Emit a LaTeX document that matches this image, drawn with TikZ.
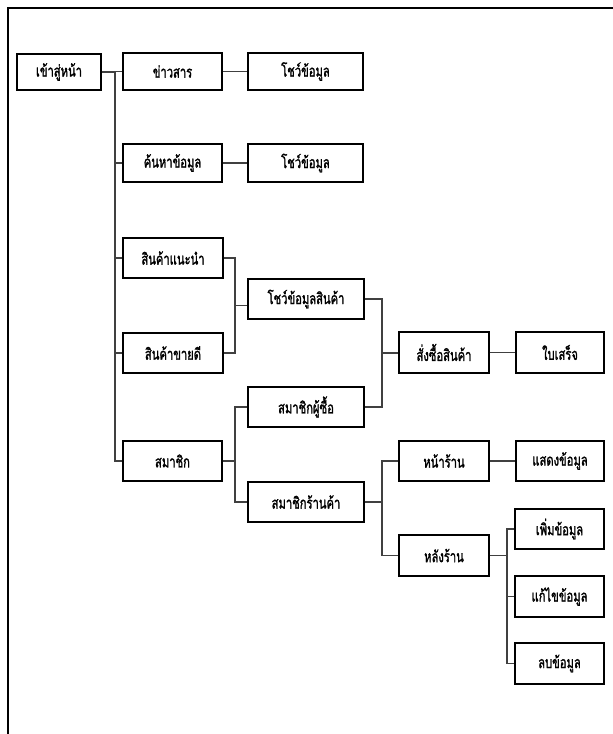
\documentclass[tikz,border=0pt]{standalone}
\usepackage{fontspec}
\newfontfamily\thaifont[Script=Thai,FakeStretch=0.7,FakeBold=1.5]{Loma}
\usetikzlibrary{calc}
\begin{document}
\begin{tikzpicture}[x=1pt,y=-1pt,
  box/.style={draw=black,line width=1.2pt,fill=white,minimum height=38pt,inner sep=0pt,font=\thaifont\fontsize{16pt}{18pt}\selectfont},
  bw/.style={box,minimum width=#1},
  link/.style={draw=black!75,line width=1.3pt}]
\useasboundingbox (0,0) rectangle (613,734);
\draw[line width=1.6pt] (8,734) -- (8,8) -- (613,8);
% x positions of bracket lines
\coordinate (trunk) at (115,0);
\coordinate (b1) at (235,0);
\coordinate (b2) at (235,0);
\coordinate (b3) at (382,0);
\coordinate (b4) at (507,0);
% nodes
\node[bw=84pt,minimum height=36pt] (home) at (59,72) {เข้าสู่หน้า};
\node[bw=99pt,minimum height=37pt] (news) at (172.5,71.5) {ข่าวสาร};
\node[bw=115pt,minimum height=37pt] (show1) at (305.5,71.5) {โชว์ข้อมูล};
\node[bw=99pt,minimum height=38pt] (search) at (172.5,163) {ค้นหาข้อมูล};
\node[bw=115pt,minimum height=38pt] (show2) at (305.5,163) {โชว์ข้อมูล};
\node[bw=100pt,minimum height=40pt] (rec) at (173,258) {สินค้าแนะนำ};
\node[bw=100pt,minimum height=40pt] (best) at (173,353) {สินค้าขายดี};
\node[bw=99pt,minimum height=40pt] (member) at (172.5,461) {สมาชิก};
\node[bw=116pt,minimum height=40pt] (showprod) at (306,299) {โชว์ข้อมูลสินค้า};
\node[bw=116pt,minimum height=40pt] (buyer) at (306,407) {สมาชิกผู้ซื้อ};
\node[bw=116pt,minimum height=40pt] (shop) at (306,502) {สมาชิกร้านค้า};
\node[bw=90pt,minimum height=41pt] (order) at (444,352.5) {สั่งซื้อสินค้า};
\node[bw=88pt,minimum height=41pt] (receipt) at (560,352.5) {ใบเสร็จ};
\node[bw=90pt,minimum height=40pt] (front) at (444,461) {หน้าร้าน};
\node[bw=88pt,minimum height=40pt] (showdata) at (560,461) {แสดงข้อมูล};
\node[bw=90pt,minimum height=41pt] (back) at (444,555.5) {หลังร้าน};
\node[bw=89pt,minimum height=40pt] (add) at (559.5,529) {เพิ่มข้อมูล};
\node[bw=89pt,minimum height=41pt] (edit) at (559.5,596.5) {แก้ไขข้อมูล};
\node[bw=89pt,minimum height=41pt] (del) at (559.5,663.5) {ลบข้อมูล};
% connectors
\draw[link] (home.east) -- (home.east -| trunk) |- (member.west);
\draw[link] (news.west -| trunk) -- (news.west);
\draw[link] (search.west -| trunk) -- (search.west);
\draw[link] (rec.west -| trunk) -- (rec.west);
\draw[link] (best.west -| trunk) -- (best.west);
\draw[link] (news.east) -- (show1.west);
\draw[link] (search.east) -- (show2.west);
\draw[link] (rec.east) -- (rec.east -| b1) |- (best.east);
\coordinate (m1) at ($(rec.east -| b1)!0.5!(best.east -| b1)$);
\draw[link] (m1) -- (m1 -| showprod.west);
\draw[link] (buyer.west) -- (buyer.west -| b2) |- (shop.west);
\draw[link] (member.east) -- (member.east -| b2);
\draw[link] (showprod.east) -- (showprod.east -| b3) |- (buyer.east);
\coordinate (m2) at ($(showprod.east -| b3)!0.5!(buyer.east -| b3)$);
\draw[link] (m2) -- (m2 -| order.west);
\draw[link] (order.east) -- (receipt.west);
\draw[link] (front.west) -- (front.west -| b3) |- (back.west);
\draw[link] (shop.east) -- (shop.east -| b3);
\draw[link] (front.east) -- (showdata.west);
\draw[link] (add.west) -- (add.west -| b4) |- (del.west);
\draw[link] (edit.west -| b4) -- (edit.west);
\draw[link] (back.east) -- (back.east -| b4);
\end{tikzpicture}
\end{document}
